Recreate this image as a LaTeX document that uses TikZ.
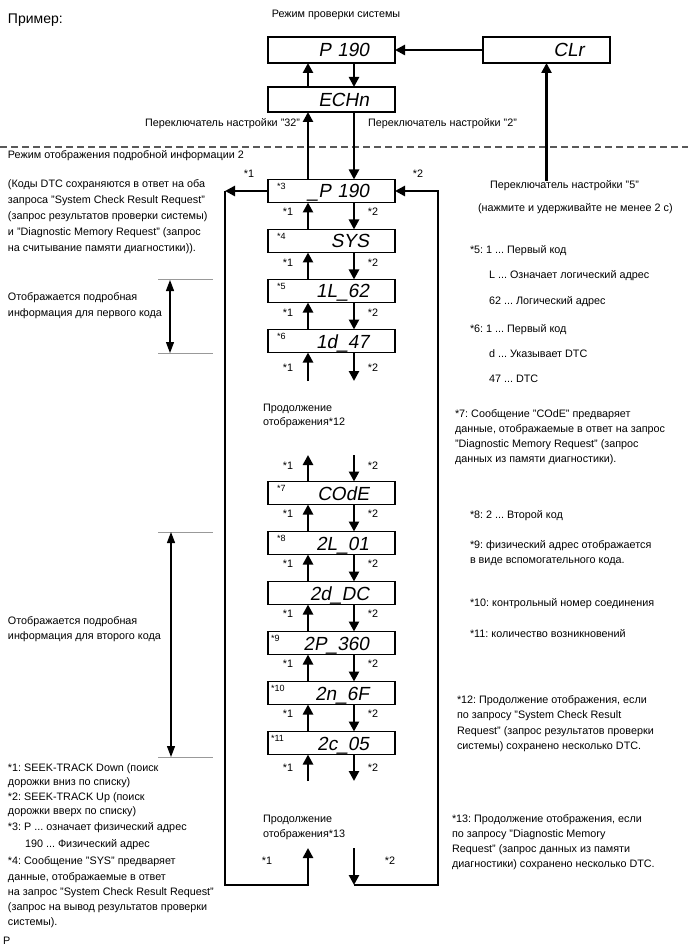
\documentclass[tikz,border=0pt]{standalone}
\usepackage{fontspec}
\setmainfont{Liberation Sans}
\newfontfamily\segfont[FakeSlant=0.18]{Liberation Sans}
\usetikzlibrary{arrows.meta,calc}
\frenchspacing

\newlength{\du}
\setlength{\du}{1pt}

\tikzset{
  disp/.style={draw, line width=1.5\du, minimum height=23\du, text width=75\du,
    inner xsep=26\du, inner ysep=0pt, outer sep=0pt, align=right,
    text height=14\du, text depth=0pt, font=\segfont\fontsize{19}{19}\selectfont},
  flow/.style={line width=2.6\du, line join=miter, -{Triangle[length=10pt,width=10pt]}},
  txt/.style={anchor=base west, inner sep=0pt, outer sep=0pt, font=\fontsize{10.8}{12}\selectfont},
  ctxt/.style={txt, anchor=base},
  rtxt/.style={txt, anchor=base east},
  boxtag/.style={anchor=base west, inner sep=0pt, outer sep=0pt, font=\fontsize{9}{10}\selectfont},
  guideline/.style={draw=black!40, line width=1\du},
  dimarrow/.style={line width=1.2\du, {Triangle[length=11pt,width=8pt]}-{Triangle[length=11pt,width=8pt]}},
  modeline/.style={draw=black!65, line width=1.3\du, dash pattern=on 7pt off 4pt},
}

\begin{document}
\begin{tikzpicture}[x=1\du,y=-1\du]
\useasboundingbox (0,0) rectangle (688,949);
\fill[white] (0,0) rectangle (688,949);

% system check mode
\node[txt, font=\fontsize{14}{16}\selectfont] (tprim) at (8,24) {Пример:};
\node[ctxt] (tsys) at (336,18) {Режим проверки системы};
\node[disp, minimum height=26\du] (p190) at (331.5,50) {P 190};
\node[disp, minimum height=26\du] (clr) at (546.5,50) {CLr};
\node[disp, minimum height=25\du] (echn) at (331.5,99.5) {ECHn};
\coordinate (upx) at (308,0);
\coordinate (dnx) at (354,0);
\node[rtxt] (tsw32) at (300,127) {Переключатель настройки "32"};
\node[txt] (tsw2) at (368,127) {Переключатель настройки "2"};
\node[txt] (tsw5) at (490,189) {Переключатель настройки "5"};
\node[txt] (tsw5b) at (478,212) {(нажмите и удерживайте не менее 2 с)};
\draw[modeline] (0,147) -- (688,147);
\node[txt] (tdet) at (8,159) {Режим отображения подробной информации 2};

\draw[flow] (clr.west) -- (p190.east);
\draw[flow] (tsw5.north -| clr.south) -- (clr.south);
\draw[flow] (echn.north -| upx) -- (p190.south -| upx);
\draw[flow] (p190.south -| dnx) -- (echn.north -| dnx);

% detail mode 2
\node[disp] (b3) at (331.5,191) {\_P 190};
\node[disp] (b4) at (331.5,241) {SYS};
\node[disp] (b5) at (331.5,291) {1L\_62};
\node[disp] (b6) at (331.5,341) {1d\_47};
\node[disp] (b7) at (331.5,493) {COdE};
\node[disp] (b8) at (331.5,543) {2L\_01};
\node[disp] (b8a) at (331.5,593) {2d\_DC};
\node[disp] (b9) at (331.5,643) {2P\_360};
\node[disp] (b10) at (331.5,693) {2n\_6F};
\node[disp] (b11) at (331.5,743) {2c\_05};
\node[boxtag] (s3) at ($(b3.north west)+(9,10)$) {*3};
\node[boxtag] (s4) at ($(b4.north west)+(9,10)$) {*4};
\node[boxtag] (s5) at ($(b5.north west)+(9,10)$) {*5};
\node[boxtag] (s6) at ($(b6.north west)+(9,10)$) {*6};
\node[boxtag] (s7) at ($(b7.north west)+(9,10)$) {*7};
\node[boxtag] (s8) at ($(b8.north west)+(9,10)$) {*8};
\node[boxtag] (s9) at ($(b9.north west)+(3,10)$) {*9};
\node[boxtag] (s10) at ($(b10.north west)+(3,10)$) {*10};
\node[boxtag] (s11) at ($(b11.north west)+(3,10)$) {*11};

\draw[flow] (b3.north -| upx) -- (echn.south -| upx);
\draw[flow] (echn.south -| dnx) -- (b3.north -| dnx);
\draw[flow] (b4.north -| upx) -- (b3.south -| upx);
\draw[flow] (b3.south -| dnx) -- (b4.north -| dnx);
\draw[flow] (b5.north -| upx) -- (b4.south -| upx);
\draw[flow] (b4.south -| dnx) -- (b5.north -| dnx);
\draw[flow] (b6.north -| upx) -- (b5.south -| upx);
\draw[flow] (b5.south -| dnx) -- (b6.north -| dnx);
\coordinate (c6u) at (308,381);
\coordinate (c6d) at (354,381);
\draw[flow] (c6u) -- (b6.south -| upx);
\draw[flow] (b6.south -| dnx) -- (c6d);
\coordinate (c7u) at (308,455);
\coordinate (c7d) at (354,455);
\draw[flow] (b7.north -| upx) -- (c7u);
\draw[flow] (c7d) -- (b7.north -| dnx);
\draw[flow] (b8.north -| upx) -- (b7.south -| upx);
\draw[flow] (b7.south -| dnx) -- (b8.north -| dnx);
\draw[flow] (b8a.north -| upx) -- (b8.south -| upx);
\draw[flow] (b8.south -| dnx) -- (b8a.north -| dnx);
\draw[flow] (b9.north -| upx) -- (b8a.south -| upx);
\draw[flow] (b8a.south -| dnx) -- (b9.north -| dnx);
\draw[flow] (b10.north -| upx) -- (b9.south -| upx);
\draw[flow] (b9.south -| dnx) -- (b10.north -| dnx);
\draw[flow] (b11.north -| upx) -- (b10.south -| upx);
\draw[flow] (b10.south -| dnx) -- (b11.north -| dnx);
\coordinate (c11u) at (308,781);
\coordinate (c11d) at (354,781);
\draw[flow] (c11u) -- (b11.south -| upx);
\draw[flow] (b11.south -| dnx) -- (c11d);

% loop round the list
\coordinate (ltop) at (225,191);
\coordinate (lbot) at (225,885);
\coordinate (ubot) at (308,885);
\coordinate (utip) at (308,848);
\coordinate (dtop) at (354,848);
\coordinate (dbot) at (354,885);
\coordinate (rbot) at (438,885);
\coordinate (rtop) at (438,191);
\draw[flow] (b3.west) -- (ltop);
\draw[flow] (ltop) -- (lbot) -- (ubot) -- (utip);
\draw[flow] (dtop) -- (dbot);
\draw[flow] (dbot) -- (rbot) -- (rtop) -- (b3.east);

% seek labels
\node[ctxt] (k1a) at (249,178) {*1};
\node[ctxt] (k2a) at (418,178) {*2};
\node[ctxt] (k1b) at (288,216) {*1};
\node[ctxt] (k2b) at (373,216) {*2};
\node[ctxt] (k1c) at (288,266) {*1};
\node[ctxt] (k2c) at (373,266) {*2};
\node[ctxt] (k1d) at (288,316) {*1};
\node[ctxt] (k2d) at (373,316) {*2};
\node[ctxt] (k1e) at (288,371) {*1};
\node[ctxt] (k2e) at (373,371) {*2};
\node[ctxt] (k1f) at (288,469) {*1};
\node[ctxt] (k2f) at (373,469) {*2};
\node[ctxt] (k1g) at (288,517) {*1};
\node[ctxt] (k2g) at (373,517) {*2};
\node[ctxt] (k1h) at (288,567) {*1};
\node[ctxt] (k2h) at (373,567) {*2};
\node[ctxt] (k1i) at (288,617) {*1};
\node[ctxt] (k2i) at (373,617) {*2};
\node[ctxt] (k1j) at (288,667) {*1};
\node[ctxt] (k2j) at (373,667) {*2};
\node[ctxt] (k1k) at (288,717) {*1};
\node[ctxt] (k2k) at (373,717) {*2};
\node[ctxt] (k1l) at (288,771) {*1};
\node[ctxt] (k2l) at (373,771) {*2};
\node[ctxt] (k1m) at (267,864) {*1};
\node[ctxt] (k2m) at (390,864) {*2};

\node[txt] (tcont1) at (263,411) {Продолжение};
\node[txt] (tcont1b) at (263,425) {отображения*12};
\node[txt] (tcont2) at (263,822) {Продолжение};
\node[txt] (tcont2b) at (263,837) {отображения*13};

% left notes
\node[txt] (tl1) at (8,188) {(Коды DTC сохраняются в ответ на оба};
\node[txt] (tl2) at (8,204) {запроса "System Check Result Request"};
\node[txt] (tl3) at (8,220) {(запрос результатов проверки системы)};
\node[txt] (tl4) at (8,236) {и "Diagnostic Memory Request" (запрос};
\node[txt] (tl5) at (8,252) {на считывание памяти диагностики)).};

\draw[guideline] (158,280) -- (213,280);
\draw[guideline] (158,353) -- (213,353);
\draw[dimarrow] (170,280) -- (170,353);
\node[txt] (tfirst1) at (8,301) {Отображается подробная};
\node[txt] (tfirst2) at (8,316) {информация для первого кода};

\draw[guideline] (158,532) -- (213,532);
\draw[guideline] (158,757) -- (213,757);
\draw[dimarrow] (171,532) -- (171,757);
\node[txt] (tsec1) at (8,624) {Отображается подробная};
\node[txt] (tsec2) at (8,639) {информация для второго кода};

\node[txt] (tn1a) at (8,771) {*1: SEEK-TRACK Down (поиск};
\node[txt] (tn1b) at (8,785) {дорожки вниз по списку)};
\node[txt] (tn2a) at (8,800) {*2: SEEK-TRACK Up (поиск};
\node[txt] (tn2b) at (8,814) {дорожки вверх по списку)};
\node[txt] (tn3a) at (8,830) {*3: P ... означает физический адрес};
\node[txt] (tn3b) at (25,847) {190 ... Физический адрес};
\node[txt] (tn4a) at (8,864) {*4: Сообщение "SYS" предваряет};
\node[txt] (tn4b) at (8,880) {данные, отображаемые в ответ};
\node[txt] (tn4c) at (8,895) {на запрос "System Check Result Request"};
\node[txt] (tn4d) at (8,910) {(запрос на вывод результатов проверки};
\node[txt] (tn4e) at (8,925) {системы).};
\node[txt] (tp) at (3,944) {P};

% right notes
\node[txt] (tn5a) at (470,254) {*5: 1 ... Первый код};
\node[txt] (tn5b) at (489,279) {L ... Означает логический адрес};
\node[txt] (tn5c) at (489,304) {62 ... Логический адрес};
\node[txt] (tn6a) at (470,332) {*6: 1 ... Первый код};
\node[txt] (tn6b) at (489,357) {d ... Указывает DTC};
\node[txt] (tn6c) at (489,382) {47 ... DTC};
\node[txt] (tn7a) at (455,417) {*7: Сообщение "COdE" предваряет};
\node[txt] (tn7b) at (455,432) {данные, отображаемые в ответ на запрос};
\node[txt] (tn7c) at (455,447) {"Diagnostic Memory Request" (запрос};
\node[txt] (tn7d) at (455,462) {данных из памяти диагностики).};
\node[txt] (tn8) at (470,518) {*8: 2 ... Второй код};
\node[txt] (tn9a) at (470,548) {*9: физический адрес отображается};
\node[txt] (tn9b) at (470,563) {в виде вспомогательного кода.};
\node[txt] (tn10) at (470,606) {*10: контрольный номер соединения};
\node[txt] (tn11) at (470,637) {*11: количество возникновений};
\node[txt] (tn12a) at (457,703) {*12: Продолжение отображения, если};
\node[txt] (tn12b) at (457,718) {по запросу "System Check Result};
\node[txt] (tn12c) at (457,734) {Request" (запрос результатов проверки};
\node[txt] (tn12d) at (457,749) {системы) сохранено несколько DTC.};
\node[txt] (tn13a) at (452,822) {*13: Продолжение отображения, если};
\node[txt] (tn13b) at (452,837) {по запросу "Diagnostic Memory};
\node[txt] (tn13c) at (452,852) {Request" (запрос данных из памяти};
\node[txt] (tn13d) at (452,867) {диагностики) сохранено несколько DTC.};
\end{tikzpicture}
\end{document}
